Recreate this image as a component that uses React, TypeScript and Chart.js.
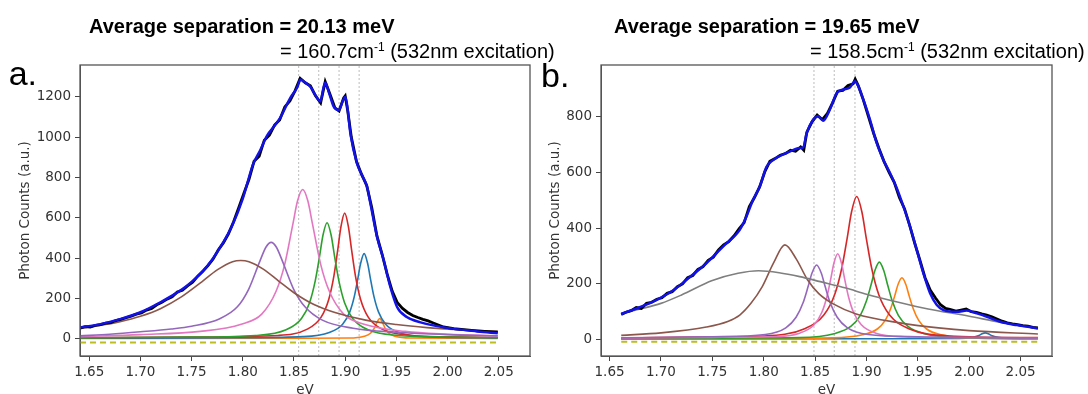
import React, { useEffect, useRef } from 'react';
import { Chart, registerables } from 'chart.js';

Chart.register(...registerables);

type Pt = [number, number];

// ---------- shared axis data ----------
const xTickValues = [1.65, 1.7, 1.75, 1.8, 1.85, 1.9, 1.95, 2.0, 2.05];
const xTickLabels = ['1.65', '1.70', '1.75', '1.80', '1.85', '1.90', '1.95', '2.00', '2.05'];
const aYTicks = [0, 200, 400, 600, 800, 1000, 1200];
const bYTicks = [0, 200, 400, 600, 800];
const aYLabels = ['0', '200', '400', '600', '800', '1000', '1200'];
const bYLabels = ['0', '200', '400', '600', '800'];

// ---------- panel a ----------
const aPeakLines = [1.8546, 1.8742, 1.894, 1.9136];

const aMeasured: Pt[] = [
  [1.641, 52], [1.646, 60], [1.651, 58], [1.656, 66], [1.661, 70], [1.666, 77], [1.671, 80], [1.676, 90],
  [1.681, 96], [1.686, 104], [1.691, 112], [1.696, 122], [1.701, 128], [1.706, 142], [1.711, 150], [1.716, 168],
  [1.721, 180], [1.726, 196], [1.731, 208], [1.736, 232], [1.741, 240], [1.746, 262], [1.751, 280], [1.756, 310],
  [1.761, 334], [1.766, 362], [1.771, 395], [1.776, 440], [1.781, 475], [1.786, 520], [1.791, 580], [1.796, 650],
  [1.801, 720], [1.806, 790], [1.811, 880], [1.816, 905], [1.821, 985], [1.826, 1010], [1.831, 1060], [1.836, 1085],
  [1.841, 1150], [1.846, 1180], [1.851, 1230], [1.856, 1292], [1.861, 1270], [1.866, 1255], [1.871, 1205], [1.876, 1170],
  [1.8805, 1275], [1.885, 1215], [1.89, 1145], [1.894, 1130], [1.8985, 1195], [1.9, 1205], [1.9025, 1130], [1.906, 1000],
  [1.911, 880], [1.916, 815], [1.921, 760], [1.926, 650], [1.931, 510], [1.936, 420], [1.941, 320], [1.946, 235],
  [1.951, 178], [1.956, 150], [1.961, 130], [1.966, 115], [1.971, 105], [1.976, 96], [1.981, 88], [1.986, 78],
  [1.991, 68], [1.996, 58], [2.006, 50], [2.016, 45], [2.026, 40], [2.036, 36], [2.049, 32],
];

const aFit: Pt[] = [
  [1.641, 55], [1.66, 71], [1.68, 97], [1.7, 131], [1.72, 182], [1.74, 242], [1.75, 282], [1.76, 330],
  [1.77, 392], [1.78, 470], [1.79, 565], [1.8, 695], [1.81, 865], [1.817, 935], [1.824, 1010], [1.83, 1050],
  [1.8366, 1097], [1.8464, 1195], [1.853, 1245], [1.8565, 1286], [1.8595, 1276], [1.866, 1250], [1.8708, 1210],
  [1.8757, 1177], [1.879, 1250], [1.8806, 1270], [1.8839, 1225], [1.8888, 1151], [1.8937, 1134], [1.898, 1184],
  [1.9002, 1200], [1.9025, 1134], [1.9051, 1018], [1.9116, 869], [1.9165, 811], [1.9214, 753], [1.9247, 670],
  [1.9312, 504], [1.9377, 388], [1.9442, 255], [1.9508, 156], [1.9606, 106], [1.9736, 81], [1.9964, 56],
  [2.029, 36], [2.049, 27],
];

const aBrown: Pt[] = [
  [1.641, 52], [1.66, 65], [1.68, 84], [1.7, 111], [1.72, 150], [1.74, 207], [1.76, 282], [1.775, 341],
  [1.79, 382], [1.798, 388], [1.806, 382], [1.82, 345], [1.835, 286], [1.85, 228], [1.87, 168], [1.89, 130],
  [1.92, 92], [1.95, 70], [1.98, 55], [2.01, 45], [2.049, 36],
];
const aPurple: Pt[] = [
  [1.641, 14], [1.67, 22], [1.7, 34], [1.73, 48], [1.75, 62], [1.777, 98], [1.7947, 158], [1.8057, 245],
  [1.8167, 385], [1.8227, 455], [1.8277, 478], [1.8327, 455], [1.8387, 385], [1.8497, 245], [1.8607, 158],
  [1.8777, 92], [1.9077, 52], [1.95, 32], [2.0, 20], [2.049, 14],
];
const aPink: Pt[] = [
  [1.641, 10], [1.7, 20], [1.7585, 36], [1.7985, 72], [1.8185, 122], [1.8325, 235], [1.841, 370], [1.849, 571],
  [1.8535, 684], [1.8585, 740], [1.8635, 684], [1.868, 571], [1.876, 370], [1.8845, 235], [1.8985, 122],
  [1.9185, 72], [1.9585, 36], [2.0, 22], [2.049, 14],
];
const aGreen: Pt[] = [
  [1.641, 4], [1.75, 8], [1.8123, 16], [1.8423, 44], [1.8573, 100], [1.8653, 180], [1.8708, 288], [1.8748, 403],
  [1.8783, 513], [1.8823, 575], [1.8863, 513], [1.8898, 403], [1.8938, 288], [1.8993, 180], [1.9073, 100],
  [1.9223, 44], [1.9523, 16], [2.0, 8], [2.049, 5],
];
const aRed: Pt[] = [
  [1.641, 4], [1.75, 8], [1.8345, 16], [1.8625, 46], [1.8765, 107], [1.884, 196], [1.889, 312], [1.8927, 439],
  [1.8958, 554], [1.8995, 623], [1.9032, 554], [1.9063, 439], [1.91, 312], [1.915, 196], [1.9225, 107],
  [1.9365, 46], [1.9645, 16], [2.0, 9], [2.049, 6],
];
const aBlue: Pt[] = [
  [1.641, 2], [1.8, 5], [1.8585, 10], [1.8845, 31], [1.8975, 72], [1.9045, 133], [1.909, 211], [1.9125, 302],
  [1.9151, 374], [1.9185, 422], [1.9219, 374], [1.9245, 302], [1.928, 211], [1.9325, 133], [1.9395, 72],
  [1.9525, 31], [1.9785, 10], [2.049, 4],
];
const aOrange: Pt[] = [
  [1.641, 1], [1.85, 2], [1.9037, 3], [1.9187, 12], [1.9247, 27], [1.9282, 50], [1.9307, 77], [1.9337, 100],
  [1.9367, 77], [1.9392, 50], [1.9427, 27], [1.9487, 12], [1.9637, 3], [2.049, 1],
];
const aBaseline: Pt[] = [[1.641, -19], [2.049, -19]];

// ---------- panel b ----------
const bPeakLines = [1.8489, 1.8686, 1.8888];

const bMeasured: Pt[] = [
  [1.6614, 90], [1.666, 98], [1.671, 104], [1.676, 115], [1.681, 112], [1.686, 130], [1.691, 134], [1.696, 145],
  [1.701, 150], [1.706, 166], [1.711, 172], [1.716, 190], [1.721, 200], [1.726, 222], [1.731, 230], [1.736, 252],
  [1.741, 262], [1.746, 285], [1.751, 296], [1.756, 322], [1.761, 340], [1.766, 352], [1.771, 372], [1.776, 398],
  [1.781, 420], [1.786, 478], [1.791, 510], [1.796, 548], [1.801, 602], [1.806, 640], [1.811, 650], [1.816, 662],
  [1.821, 668], [1.826, 680], [1.831, 676], [1.836, 692], [1.839, 680], [1.842, 745], [1.847, 782], [1.852, 806],
  [1.857, 790], [1.862, 812], [1.867, 850], [1.872, 892], [1.877, 895], [1.882, 912], [1.887, 918], [1.889, 935],
  [1.892, 912], [1.897, 860], [1.902, 800], [1.907, 740], [1.912, 688], [1.917, 640], [1.922, 600], [1.927, 565],
  [1.932, 510], [1.937, 470], [1.942, 410], [1.947, 345], [1.952, 285], [1.957, 222], [1.962, 178], [1.967, 150],
  [1.972, 125], [1.977, 112], [1.982, 108], [1.987, 102], [1.992, 106], [1.997, 110], [2.002, 100], [2.007, 98],
  [2.012, 92], [2.017, 88], [2.022, 82], [2.027, 74], [2.032, 66], [2.037, 60], [2.042, 56], [2.047, 54],
  [2.052, 50], [2.057, 48], [2.062, 44], [2.0668, 42],
];

const bFit: Pt[] = [
  [1.6614, 92], [1.6792, 116], [1.6955, 142], [1.7117, 176], [1.728, 224], [1.7442, 274], [1.7604, 334],
  [1.7767, 394], [1.7832, 442], [1.7897, 502], [1.7962, 550], [1.8027, 620], [1.8092, 645], [1.8222, 670],
  [1.8352, 688], [1.8384, 690], [1.8417, 740], [1.8482, 790], [1.853, 802], [1.8579, 786], [1.8644, 826],
  [1.871, 885], [1.8774, 898], [1.8839, 905], [1.8888, 928], [1.892, 910], [1.8969, 862], [1.9034, 790],
  [1.9099, 706], [1.9164, 646], [1.9229, 598], [1.9294, 544], [1.9359, 478], [1.9424, 406], [1.9489, 322],
  [1.9554, 238], [1.9619, 166], [1.9684, 124], [1.9749, 106], [1.9879, 100], [1.9977, 104], [2.0074, 94],
  [2.0172, 82], [2.0301, 64], [2.0464, 52], [2.0668, 40],
];

const bGray: Pt[] = [
  [1.6614, 94], [1.68, 110], [1.7, 130], [1.72, 160], [1.75, 212], [1.775, 238], [1.795, 247], [1.815, 240],
  [1.835, 226], [1.855, 208], [1.88, 185], [1.9, 163], [1.93, 135], [1.96, 110], [2.0, 84], [2.03, 62], [2.0668, 42],
];
const bBrown: Pt[] = [
  [1.6614, 15], [1.7, 24], [1.7442, 45], [1.765, 65], [1.7767, 88], [1.7876, 130], [1.7986, 190], [1.8096, 275],
  [1.8206, 340], [1.8316, 290], [1.8426, 215], [1.8536, 165], [1.8676, 128], [1.89, 92], [1.9326, 60],
  [1.97, 42], [2.0, 32], [2.0668, 20],
];
const bPurple: Pt[] = [
  [1.6614, 6], [1.75, 10], [1.8015, 18], [1.8215, 42], [1.8315, 80], [1.8385, 134], [1.8435, 194], [1.847, 239],
  [1.8515, 268], [1.856, 239], [1.8595, 194], [1.8645, 134], [1.8715, 80], [1.8815, 42], [1.9015, 18],
  [1.95, 10], [2.0668, 6],
];
const bPink: Pt[] = [
  [1.6614, 6], [1.75, 8], [1.807, 10], [1.835, 23], [1.849, 53], [1.8565, 97], [1.8615, 154], [1.8652, 217],
  [1.8683, 274], [1.872, 308], [1.8757, 274], [1.8788, 217], [1.8825, 154], [1.8875, 97], [1.895, 53],
  [1.909, 23], [1.937, 10], [2.0, 7], [2.0668, 6],
];
const bRed: Pt[] = [
  [1.6614, 5], [1.75, 10], [1.8005, 13], [1.8405, 40], [1.8585, 88], [1.869, 161], [1.876, 257], [1.8811, 362],
  [1.8855, 459], [1.8905, 514], [1.8955, 459], [1.8999, 362], [1.905, 257], [1.912, 161], [1.9225, 88],
  [1.9405, 40], [1.9805, 13], [2.0668, 7],
];
const bGreen: Pt[] = [
  [1.6614, 3], [1.8, 6], [1.8345, 7], [1.8685, 21], [1.885, 48], [1.894, 87], [1.9, 139], [1.9044, 196],
  [1.9082, 248], [1.9125, 278], [1.9168, 248], [1.9206, 196], [1.925, 139], [1.931, 87], [1.94, 48],
  [1.9565, 21], [1.9905, 7], [2.0668, 4],
];
const bOrange: Pt[] = [
  [1.6614, 2], [1.8, 4], [1.8665, 6], [1.896, 17], [1.9105, 38], [1.9182, 69], [1.9235, 111], [1.9274, 156],
  [1.9307, 198], [1.9345, 222], [1.9383, 198], [1.9416, 156], [1.9455, 111], [1.9508, 69], [1.9585, 38],
  [1.973, 17], [2.0025, 6], [2.0668, 3],
];
const bBlue: Pt[] = [
  [1.6614, 2], [1.9, 3], [1.99, 4], [2.003, 8], [2.0095, 15], [2.0125, 21], [2.0155, 24], [2.0185, 21],
  [2.0215, 15], [2.028, 8], [2.04, 4], [2.0668, 3],
];
const bBaseline: Pt[] = [[1.6614, -8], [2.0668, -8]];

// ---------- styling ----------
const TAB = {
  blue: '#1f77b4', orange: '#ff7f0e', green: '#2ca02c', red: '#d62728', purple: '#9467bd',
  brown: '#8c564b', pink: '#e377c2', gray: '#7f7f7f', olive: '#bcbd22',
};
const TICK_FONT = { family: 'DejaVu Sans', size: 13.5 };
const TEXT_COLOR = '#333';

interface PanelSpec {
  xMin: number; xMax: number; yMin: number; yMax: number;
  yTicks: number[]; yLabels: string[];
  peakLines: number[];
  measured: Pt[]; fit: Pt[];
  components: { pts: Pt[]; color: string }[];
  baseline: Pt[];
  yAxisWidth: number; padRight: number; yTitlePad: number;
}

const panelA: PanelSpec = {
  xMin: 1.641, xMax: 2.0805, yMin: -86, yMax: 1358,
  yTicks: aYTicks, yLabels: aYLabels, peakLines: aPeakLines,
  measured: aMeasured, fit: aFit,
  components: [
    { pts: aBrown, color: TAB.brown }, { pts: aPurple, color: TAB.purple }, { pts: aPink, color: TAB.pink },
    { pts: aGreen, color: TAB.green }, { pts: aRed, color: TAB.red }, { pts: aBlue, color: TAB.blue },
    { pts: aOrange, color: TAB.orange },
  ],
  baseline: aBaseline,
  yAxisWidth: 80, padRight: 15, yTitlePad: 16.9,
};

const panelB: PanelSpec = {
  xMin: 1.6417, xMax: 2.0805, yMin: -59, yMax: 986,
  yTicks: bYTicks, yLabels: bYLabels, peakLines: bPeakLines,
  measured: bMeasured, fit: bFit,
  components: [
    { pts: bGray, color: TAB.gray }, { pts: bBrown, color: TAB.brown }, { pts: bPurple, color: TAB.purple },
    { pts: bPink, color: TAB.pink }, { pts: bRed, color: TAB.red }, { pts: bGreen, color: TAB.green },
    { pts: bOrange, color: TAB.orange }, { pts: bBlue, color: TAB.blue },
  ],
  baseline: bBaseline,
  yAxisWidth: 56, padRight: 36, yTitlePad: 1.9,
};

const toXY = (pts: Pt[]) => pts.map(([x, y]) => ({ x, y }));

const framePlugin = {
  id: 'frame',
  afterDraw(chart: any) {
    const { ctx, chartArea } = chart;
    const { left, top, right, bottom } = chartArea;
    ctx.save();
    ctx.strokeStyle = '#555';
    ctx.lineWidth = 1.3;
    ctx.strokeRect(left, top, right - left, bottom - top);
    ctx.restore();
  },
};

function buildConfig(s: PanelSpec): any {
  const curve = (pts: Pt[], color: string, width: number, extra: any = {}) => ({
    data: toXY(pts),
    borderColor: color,
    backgroundColor: color,
    borderWidth: width,
    pointRadius: 0,
    fill: false,
    cubicInterpolationMode: 'monotone',
    ...extra,
  });

  const datasets: any[] = [
    curve(s.fit, '#1212e8', 2.5),
    curve(s.measured, '#000000', 2.8, { cubicInterpolationMode: 'default', tension: 0 }),
    ...s.components.map((c) => curve(c.pts, c.color, 1.6)),
    curve(s.baseline, TAB.olive, 1.9, { borderDash: [6, 4], tension: 0, cubicInterpolationMode: 'default' }),
    ...s.peakLines.map((x) =>
      curve([[x, s.yMin], [x, s.yMax]], '#b5b5b5', 0.9, { borderDash: [2, 2], tension: 0, cubicInterpolationMode: 'default' })
    ),
  ];

  return {
    type: 'line',
    data: { datasets },
    plugins: [framePlugin],
    options: {
      animation: false,
      responsive: false,
      devicePixelRatio: 1,
      events: [],
      layout: { padding: { left: 0, top: 65, right: s.padRight, bottom: 0 } },
      plugins: { legend: { display: false }, tooltip: { enabled: false }, title: { display: false } },
      scales: {
        x: {
          type: 'linear',
          min: s.xMin,
          max: s.xMax,
          afterBuildTicks: (axis: any) => {
            axis.ticks = xTickValues.map((v) => ({ value: v }));
          },
          afterFit: (axis: any) => {
            axis.height = 48;
          },
          ticks: {
            callback: (_v: any, i: number) => xTickLabels[i],
            font: TICK_FONT,
            color: TEXT_COLOR,
            padding: 3,
            maxRotation: 0,
            autoSkip: false,
          },
          grid: { drawOnChartArea: false, drawTicks: true, tickLength: 5, color: '#444', lineWidth: 1 },
          border: { display: true, color: '#555', width: 1 },
          title: {
            display: true,
            text: 'eV',
            font: TICK_FONT,
            color: TEXT_COLOR,
            padding: { top: 0, bottom: 5.9 },
          },
        },
        y: {
          type: 'linear',
          min: s.yMin,
          max: s.yMax,
          afterBuildTicks: (axis: any) => {
            axis.ticks = s.yTicks.map((v) => ({ value: v }));
          },
          afterFit: (axis: any) => {
            axis.width = s.yAxisWidth;
          },
          ticks: {
            callback: (_v: any, i: number) => s.yLabels[i],
            font: TICK_FONT,
            color: TEXT_COLOR,
            padding: 4,
            autoSkip: false,
          },
          grid: { drawOnChartArea: false, drawTicks: true, tickLength: 5, color: '#444', lineWidth: 1 },
          border: { display: true, color: '#555', width: 1 },
          title: {
            display: true,
            text: 'Photon Counts (a.u.)',
            font: TICK_FONT,
            color: TEXT_COLOR,
            padding: { top: s.yTitlePad, bottom: 0 },
          },
        },
      },
    },
  };
}

function Panel({ spec, left, width }: { spec: PanelSpec; left: number; width: number }) {
  const ref = useRef<HTMLCanvasElement>(null);
  useEffect(() => {
    if (!ref.current) return;
    const chart = new Chart(ref.current, buildConfig(spec));
    return () => chart.destroy();
  }, [spec]);
  return (
    <canvas
      ref={ref}
      width={width}
      height={404}
      style={{ position: 'absolute', left, top: 0, width, height: 404, display: 'block' }}
    />
  );
}

const SANS = '"Liberation Sans", Arial, Helvetica, sans-serif';

function Sup({ children }: { children: React.ReactNode }) {
  return <span style={{ fontSize: 12, position: 'relative', top: -7 }}>{children}</span>;
}

export default function App() {
  const text = (extra: React.CSSProperties): React.CSSProperties => ({
    position: 'absolute',
    fontFamily: SANS,
    color: '#000',
    whiteSpace: 'nowrap',
    fontSize: 20,
    lineHeight: '20px',
    ...extra,
  });
  return (
    <div
      style={{
        position: 'fixed',
        left: 0,
        top: 0,
        width: 1088,
        height: 394,
        overflow: 'hidden',
        background: '#fff',
      }}
    >
      <Panel spec={panelA} left={0} width={545} />
      <Panel spec={panelB} left={545} width={543} />

      <div style={text({ left: 89, top: 16, fontWeight: 'bold' })}>Average separation = 20.13 meV</div>
      <div style={text({ left: 280, top: 41 })}>
        = 160.7cm<Sup>-1</Sup> (532nm excitation)
      </div>
      <div style={text({ left: 614, top: 16, fontWeight: 'bold' })}>Average separation = 19.65 meV</div>
      <div style={text({ left: 810, top: 41 })}>
        = 158.5cm<Sup>-1</Sup> (532nm excitation)
      </div>

      <div style={text({ left: 8.7, top: 55.5, fontSize: 34, lineHeight: '34px' })}>a.</div>
      <div style={text({ left: 541, top: 57.5, fontSize: 34, lineHeight: '34px' })}>b.</div>
    </div>
  );
}
